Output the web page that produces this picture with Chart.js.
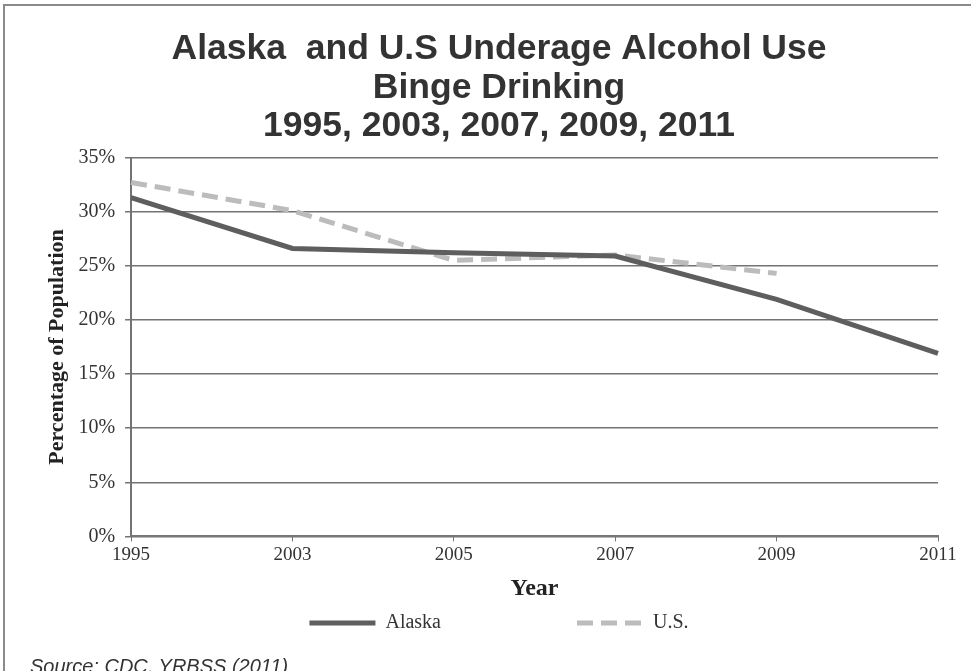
<!DOCTYPE html>
<html>
<head>
<meta charset="utf-8">
<script src="https://cdn.jsdelivr.net/npm/chart.js@4/dist/chart.umd.min.js"></script>
<style>
  body { margin: 0; background: #fff; overflow: hidden; }
  #frame { position: absolute; left: 3px; top: 4px; width: 966px; height: 680px;
           border-top: 2px solid #8a8a8a; border-left: 2px solid #8a8a8a; }
  #wrap { position: absolute; left: 0; top: 0; }
  #source { position: absolute; left: 30px; top: 655px; font: italic 20px "Liberation Sans", Arial, sans-serif; color: #333; }
</style>
</head>
<body>
<div id="frame"></div>
<div id="wrap"><canvas id="chart" width="973" height="671"></canvas></div>
<div id="source">Source: CDC, YRBSS (2011)</div>
<script>
// binge drinking, percent of population
var years = ['1995', '2003', '2005', '2007', '2009', '2011'];
var alaska = [31.3, 26.6, 26.2, 25.9, 21.9, 16.9];
var us = [32.7, 30.1, 25.5, 26.0, 24.3, null];
var yTicks = [0, 5, 10, 15, 20, 25, 30, 35];

var serif = '"Liberation Serif", "Times New Roman", serif';
var sans = '"Liberation Sans", Arial, sans-serif';

new Chart('chart', {
  type: 'line',
  data: {
    labels: years,
    datasets: [{
      label: 'Alaska',
      data: alaska,
      borderColor: '#5e5e5e',
      backgroundColor: '#5e5e5e',
      borderWidth: 5,
      pointRadius: 0,
      tension: 0
    }, {
      label: 'U.S.',
      data: us,
      borderColor: '#bcbcbc',
      backgroundColor: '#bcbcbc',
      borderWidth: 5,
      borderDash: [16, 8],
      pointRadius: 0,
      tension: 0
    }]
  },
  options: {
    responsive: false,
    animation: false,
    layout: { padding: { top: 30, left: 60, right: 35, bottom: 28 } },
    plugins: {
      title: {
        display: true,
        text: ['Alaska  and U.S Underage Alcohol Use', 'Binge Drinking', '1995, 2003, 2007, 2009, 2011'],
        color: '#333',
        font: { family: sans, size: 35.5, weight: 'bold', lineHeight: 1.085 },
        padding: { top: 0, bottom: 12 }
      },
      legend: {
        position: 'bottom',
        labels: {
          color: '#333',
          font: { family: serif, size: 20 },
          usePointStyle: true,
          pointStyle: 'line',
          pointStyleWidth: 66,
          padding: 10,
          generateLabels: function (chart) {
            var items = Chart.defaults.plugins.legend.labels.generateLabels(chart);
            items.forEach(function (it) {
              var ds = chart.data.datasets[it.datasetIndex];
              it.lineWidth = 5;
              it.strokeStyle = ds.borderColor;
              it.lineDash = ds.borderDash || [];
            });
            // blank spacer keeps the wide gap between the two entries
            items.splice(1, 0, { text: '        ', strokeStyle: 'rgba(0,0,0,0)', fillStyle: 'rgba(0,0,0,0)', lineWidth: 0, pointStyle: 'line', hidden: false });
            return items;
          }
        },
        onClick: function () {}
      },
      tooltip: { enabled: false }
    },
    scales: {
      x: {
        offset: false,
        grid: { drawOnChartArea: false, drawTicks: true, tickLength: 5, color: '#777' },
        border: { color: '#777', width: 2 },
        ticks: { color: '#333', font: { family: serif, size: 19 }, padding: 2, maxRotation: 0 },
        title: { display: true, text: 'Year', color: '#222', font: { family: serif, size: 24, weight: 'bold' }, padding: { top: 6, bottom: 0 } }
      },
      y: {
        min: 0,
        max: 35,
        afterBuildTicks: function (axis) {
          axis.ticks = yTicks.map(function (v) { return { value: v }; });
        },
        grid: { color: '#737373', lineWidth: 1.5, tickLength: 6 },
        border: { color: '#737373', width: 2 },
        ticks: { color: '#333', font: { family: serif, size: 20 }, padding: 10,
          callback: function (v) { return v + '%'; } },
        title: { display: true, text: 'Percentage of Population', color: '#222', font: { family: serif, size: 22, weight: 'bold' }, padding: { top: -16, bottom: -2 } }
      }
    }
  }
});
</script>
</body>
</html>
